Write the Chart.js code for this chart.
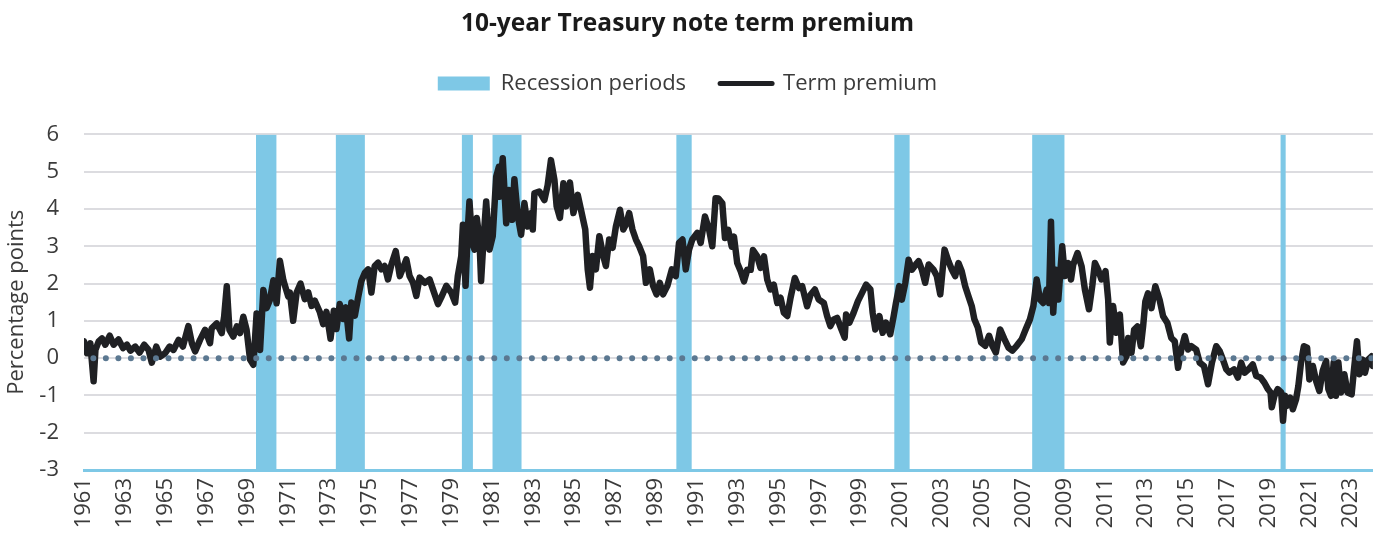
<!DOCTYPE html>
<html>
<head>
<meta charset="utf-8">
<script src="https://cdn.jsdelivr.net/npm/chart.js@4.4.0/dist/chart.umd.min.js"></script>
<style>
  html, body { margin: 0; padding: 0; background: #fff; }
</style>
</head>
<body>
<canvas id="myChart" width="1385" height="540"></canvas>
<script>
"use strict";
// term premium, [decimal year, percentage points]
const termPremium = [
  [1961.50,0.45],[1961.65,0.13],[1961.81,0.40],[1961.97,-0.62],[1962.06,0.22],[1962.22,0.45],[1962.38,0.53],[1962.54,0.36],
  [1962.76,0.60],[1962.95,0.36],[1963.19,0.50],[1963.41,0.27],[1963.60,0.36],[1963.77,0.20],[1964.01,0.31],[1964.22,0.15],
  [1964.45,0.36],[1964.66,0.22],[1964.82,-0.12],[1965.04,0.31],[1965.23,0.04],[1965.47,0.13],[1965.69,0.31],[1965.88,0.22],
  [1966.13,0.49],[1966.34,0.31],[1966.61,0.86],[1966.78,0.40],[1966.94,0.18],[1967.18,0.49],[1967.43,0.76],[1967.67,0.40],
  [1967.75,0.80],[1968.00,0.93],[1968.24,0.67],[1968.36,1.11],[1968.49,1.93],[1968.62,0.76],[1968.81,0.58],[1968.98,0.85],
  [1969.14,0.67],[1969.30,1.11],[1969.46,0.76],[1969.63,-0.04],[1969.79,-0.18],[1969.87,0.49],[1969.95,1.20],[1970.12,0.22],
  [1970.28,1.83],[1970.44,1.34],[1970.60,1.56],[1970.77,2.09],[1970.93,1.47],[1971.09,2.61],[1971.26,2.09],[1971.50,1.65],
  [1971.58,1.76],[1971.74,1.00],[1971.91,1.76],[1972.10,2.00],[1972.31,1.58],[1972.48,1.76],[1972.64,1.40],[1972.80,1.54],
  [1973.05,1.23],[1973.21,0.91],[1973.37,1.24],[1973.57,0.52],[1973.73,1.27],[1973.86,0.78],[1974.02,1.45],[1974.19,1.05],
  [1974.32,1.36],[1974.48,0.53],[1974.59,1.49],[1974.76,1.14],[1974.92,1.63],[1975.08,2.07],[1975.25,2.29],[1975.41,2.38],
  [1975.57,1.76],[1975.73,2.47],[1975.90,2.56],[1976.06,2.38],[1976.22,2.47],[1976.38,2.11],[1976.55,2.51],[1976.76,2.87],
  [1976.96,2.20],[1977.12,2.42],[1977.28,2.65],[1977.44,2.20],[1977.61,2.02],[1977.77,1.67],[1977.93,2.16],[1978.18,2.02],
  [1978.42,2.11],[1978.58,1.85],[1978.83,1.45],[1978.99,1.63],[1979.24,1.94],[1979.48,1.76],[1979.67,1.49],[1979.80,2.20],
  [1979.97,2.74],[1980.05,3.58],[1980.18,1.94],[1980.29,3.45],[1980.37,4.20],[1980.51,3.09],[1980.62,2.91],[1980.73,3.76],
  [1980.86,3.18],[1980.94,2.07],[1981.06,3.18],[1981.19,4.20],[1981.35,2.91],[1981.51,3.27],[1981.68,4.87],[1981.81,5.13],
  [1981.84,4.33],[1982.00,5.36],[1982.17,3.62],[1982.30,4.51],[1982.46,3.71],[1982.57,4.80],[1982.74,3.80],[1982.90,3.31],
  [1983.06,4.16],[1983.22,3.53],[1983.39,3.89],[1983.47,3.45],[1983.55,4.42],[1983.79,4.47],[1984.04,4.24],[1984.20,4.64],
  [1984.36,5.31],[1984.53,4.78],[1984.64,4.07],[1984.80,3.76],[1984.97,4.69],[1985.10,4.07],[1985.29,4.71],[1985.46,3.89],
  [1985.67,4.38],[1985.83,3.98],[1986.04,3.45],[1986.16,2.38],[1986.27,1.89],[1986.40,2.74],[1986.56,2.38],[1986.73,3.27],
  [1986.92,2.74],[1987.05,2.47],[1987.21,3.18],[1987.38,2.96],[1987.54,3.53],[1987.74,3.98],[1987.90,3.45],[1988.06,3.62],
  [1988.19,3.89],[1988.35,3.45],[1988.52,3.18],[1988.68,3.00],[1988.87,2.74],[1989.01,2.02],[1989.20,2.38],[1989.36,1.94],
  [1989.53,1.71],[1989.69,2.02],[1989.85,1.71],[1990.06,1.94],[1990.28,2.38],[1990.47,2.20],[1990.63,3.09],[1990.80,3.18],
  [1990.96,2.38],[1991.12,2.91],[1991.28,3.18],[1991.53,3.36],[1991.69,3.09],[1991.90,3.80],[1992.10,3.45],[1992.26,3.00],
  [1992.42,4.29],[1992.56,4.28],[1992.75,4.15],[1992.88,3.22],[1993.04,3.44],[1993.21,2.99],[1993.32,3.26],[1993.48,2.55],
  [1993.65,2.33],[1993.81,2.06],[1993.97,2.37],[1994.14,2.37],[1994.25,2.90],[1994.46,2.73],[1994.62,2.42],[1994.79,2.73],
  [1994.95,2.10],[1995.11,1.84],[1995.27,1.97],[1995.44,1.48],[1995.60,1.62],[1995.76,1.22],[1995.93,1.13],[1996.09,1.62],
  [1996.30,2.15],[1996.50,1.88],[1996.66,1.93],[1996.90,1.39],[1997.07,1.70],[1997.28,1.84],[1997.47,1.57],[1997.72,1.48],
  [1997.88,1.13],[1998.04,0.86],[1998.21,1.04],[1998.37,1.08],[1998.58,0.77],[1998.74,0.55],[1998.81,1.17],[1998.97,0.95],
  [1999.18,1.22],[1999.39,1.53],[1999.59,1.75],[1999.79,1.97],[2000.00,1.84],[2000.11,1.22],[2000.24,0.77],[2000.44,1.13],
  [2000.60,0.68],[2000.76,0.95],[2000.97,0.64],[2001.14,1.13],[2001.25,1.48],[2001.41,1.93],[2001.54,1.57],[2001.71,2.02],
  [2001.87,2.64],[2002.03,2.37],[2002.28,2.55],[2002.36,2.60],[2002.52,2.37],[2002.68,2.02],[2002.85,2.51],[2003.09,2.37],
  [2003.25,2.20],[2003.42,1.71],[2003.63,2.91],[2003.82,2.60],[2003.99,2.37],[2004.15,2.20],[2004.31,2.55],[2004.47,2.33],
  [2004.64,1.93],[2004.80,1.66],[2004.96,1.40],[2005.09,1.04],[2005.26,0.82],[2005.42,0.42],[2005.62,0.33],[2005.81,0.60],
  [2005.97,0.33],[2006.14,0.15],[2006.35,0.77],[2006.56,0.51],[2006.76,0.28],[2006.95,0.20],[2007.16,0.33],[2007.41,0.51],
  [2007.60,0.77],[2007.81,1.04],[2007.98,1.40],[2008.14,2.11],[2008.30,1.57],[2008.46,1.48],[2008.63,1.84],[2008.74,1.48],
  [2008.84,3.66],[2008.95,1.22],[2009.07,2.37],[2009.20,1.57],[2009.39,3.00],[2009.52,2.20],[2009.69,2.55],[2009.82,2.11],
  [2009.93,2.51],[2010.14,2.82],[2010.34,2.46],[2010.50,1.84],[2010.70,1.31],[2010.86,1.93],[2010.99,2.55],[2011.15,2.37],
  [2011.31,2.11],[2011.51,2.33],[2011.64,1.57],[2011.72,0.42],[2011.88,1.40],[2012.05,0.68],[2012.21,1.17],[2012.37,-0.12],
  [2012.54,0.06],[2012.62,0.54],[2012.78,0.14],[2012.91,0.76],[2013.07,0.85],[2013.24,0.32],[2013.35,0.85],[2013.46,1.52],
  [2013.59,1.74],[2013.76,1.34],[2013.95,1.93],[2014.16,1.56],[2014.33,1.12],[2014.54,0.94],[2014.73,0.54],[2014.90,0.45],
  [2015.06,-0.26],[2015.22,0.23],[2015.39,0.59],[2015.55,0.23],[2015.71,0.32],[2015.95,0.23],[2016.12,-0.12],[2016.33,-0.21],
  [2016.53,-0.70],[2016.72,-0.12],[2016.93,0.32],[2017.10,0.19],[2017.26,-0.04],[2017.42,-0.30],[2017.58,-0.39],[2017.80,-0.30],
  [2017.99,-0.52],[2018.15,-0.12],[2018.32,-0.39],[2018.51,-0.30],[2018.72,-0.17],[2018.89,-0.48],[2019.10,-0.52],[2019.29,-0.66],
  [2019.46,-0.83],[2019.59,-0.92],[2019.65,-1.32],[2019.78,-1.01],[2019.94,-0.83],[2020.11,-0.92],[2020.20,-1.68],[2020.30,-1.01],
  [2020.40,-1.28],[2020.56,-1.06],[2020.68,-1.37],[2020.84,-1.10],[2020.95,-0.75],[2021.08,-0.12],[2021.22,0.32],[2021.38,0.28],
  [2021.49,-0.57],[2021.66,-0.21],[2021.82,-0.61],[2021.98,-0.88],[2022.14,-0.35],[2022.31,-0.08],[2022.42,-0.83],[2022.55,-1.01],
  [2022.68,-0.12],[2022.79,-1.01],[2022.91,-0.12],[2023.04,-0.92],[2023.20,-0.43],[2023.36,-0.92],[2023.56,-0.97],[2023.66,-0.39],
  [2023.82,0.45],[2023.94,-0.43],[2024.10,-0.04],[2024.21,-0.39],[2024.37,-0.04],[2024.54,0.05],[2024.60,-0.21]
];

// NBER recessions as decimal years
const recessionStart = [1969.92, 1973.83, 1980.00, 1981.50, 1990.50, 2001.17, 2007.92, 2020.08];
const recessionEnd   = [1970.92, 1975.25, 1980.54, 1982.92, 1991.25, 2001.92, 2009.50, 2020.33];

const xLabels = ['1961','1963','1965','1967','1969','1971','1973','1975','1977','1979','1981','1983','1985','1987','1989','1991',
  '1993','1995','1997','1999','2001','2003','2005','2007','2009','2011','2013','2015','2017','2019','2021','2023'];
const yTicks = [-3, -2, -1, 0, 1, 2, 3, 4, 5, 6];

const xMin = 1961.5, xMax = 2024.6;
const FONT = "'Open Sans', sans-serif";
const TEXT = '#3b3b3b';
const BLUE = '#7ec8e6';

Chart.defaults.font.family = FONT;

// recession bands as a filled outline down to the axis minimum
const recessionPts = [{x: xMin, y: -3}];
for (let i = 0; i < recessionStart.length; i++) {
  recessionPts.push({x: recessionStart[i], y: -3});
  recessionPts.push({x: recessionStart[i], y: 6});
  recessionPts.push({x: recessionEnd[i], y: 6});
  recessionPts.push({x: recessionEnd[i], y: -3});
}
recessionPts.push({x: xMax, y: -3});

const tpPts = termPremium.map(p => ({x: p[0], y: p[1]}));

let ctx = document.getElementById("myChart").getContext("2d");
const chart = new Chart(ctx, {
  type: 'line',
  data: {
    datasets: [{
      label: 'Recession periods',
      data: recessionPts,
      borderColor: BLUE,
      borderWidth: 0,
      backgroundColor: BLUE,
      fill: {value: -3},
      pointRadius: 0,
      pointStyle: 'rect',
      pointBorderWidth: 0,
      order: 3
    }, {
      label: 'Term premium',
      data: tpPts,
      borderColor: '#1f2023',
      backgroundColor: '#1f2023',
      borderWidth: 6.5,
      borderCapStyle: 'round',
      borderJoinStyle: 'round',
      pointRadius: 0,
      pointStyle: 'line',
      pointBorderWidth: 5,
      fill: false,
      tension: 0,
      order: 2
    }, {
      label: 'zero',
      data: [{x: xMin, y: 0}, {x: xMax, y: 0}],
      borderColor: '#5b7891',
      borderWidth: 6,
      borderDash: [0, 12.53],
      borderDashOffset: 3.2,
      borderCapStyle: 'round',
      pointRadius: 0,
      fill: false,
      order: 1
    }]
  },
  options: {
    responsive: false,
    animation: false,
    devicePixelRatio: 1,
    layout: { padding: {left: 0, right: 10, top: 2, bottom: 0} },
    plugins: {
      tooltip: { enabled: false },
      title: {
        display: true,
        text: '10-year Treasury note term premium',
        color: '#1a1a1a',
        font: {size: 24.5, weight: 'bold'},
        padding: {top: 7, bottom: 0}
      },
      subtitle: {
        // empty spacer between legend and plot
        display: true,
        text: '',
        weight: 500,
        font: {size: 10},
        padding: {top: 0, bottom: 18}
      },
      legend: {
        position: 'top',
        labels: {
          usePointStyle: true,
          pointStyleWidth: 52,
          boxHeight: 14,
          padding: 34,
          color: TEXT,
          font: {size: 22},
          generateLabels: function(chart) {
            const items = Chart.defaults.plugins.legend.labels.generateLabels(chart)
              .filter(it => it.datasetIndex < 2)
              .sort((a, b) => a.datasetIndex - b.datasetIndex);
            items.forEach(it => { if (it.datasetIndex === 1) it.lineCap = 'round'; });
            return items;
          }
        }
      }
    },
    scales: {
      x: {
        type: 'linear',
        min: xMin,
        max: xMax,
        afterBuildTicks: function(scale) {
          scale.ticks = xLabels.map(l => ({value: Number(l) + 0.5}));
        },
        afterFit: function(scale) { scale.height = 70; },
        ticks: {
          autoSkip: false,
          maxRotation: 90,
          minRotation: 90,
          padding: 8,
          color: TEXT,
          font: {size: 22},
          callback: function(value) { return String(Math.round(value - 0.5)); }
        },
        grid: { display: true, color: 'rgba(0,0,0,0)', drawTicks: false },
        border: { display: true, color: BLUE, width: 3 }
      },
      y: {
        min: -3,
        max: 6,
        afterBuildTicks: function(scale) {
          scale.ticks = yTicks.map(v => ({value: v}));
        },
        afterFit: function(scale) { scale.width = 84; },
        ticks: { padding: 25, color: TEXT, font: {size: 22} },
        grid: {
          drawTicks: false,
          lineWidth: 2,
          color: c => (c.tick && c.tick.value === -3) ? 'rgba(0,0,0,0)' : '#dcdce0'
        },
        border: { display: false },
        title: {
          display: true,
          text: 'Percentage points',
          color: TEXT,
          font: {size: 22},
          padding: {top: 4, bottom: 0}
        }
      }
    }
  }
});
</script>
</body>
</html>
